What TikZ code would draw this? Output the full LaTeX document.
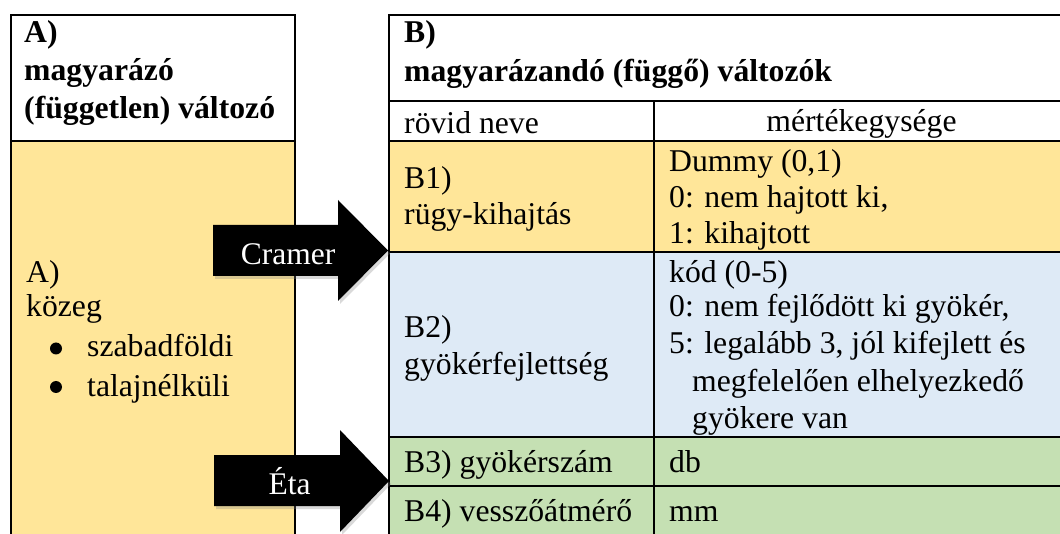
\documentclass[tikz,border=0pt]{standalone}
\usepackage{fontspec}
\setmainfont{Liberation Serif}
\usetikzlibrary{shadows}
\definecolor{cyel}{HTML}{FFE699}
\definecolor{cblu}{HTML}{DEEAF6}
\definecolor{cgrn}{HTML}{C5E0B3}
\begin{document}
\begin{tikzpicture}[x=1pt,y=-1pt,
  txt/.style={anchor=base west, inner sep=0pt, font=\fontsize{31.7}{36}\selectfont},
  hdr/.style={anchor=base west, inner sep=0pt, font=\fontsize{31.7}{36}\selectfont\bfseries},
  ctr/.style={anchor=base, inner sep=0pt, font=\fontsize{31.7}{36}\selectfont},
  gridline/.style={line width=2.8pt, black},
  bul/.style={circle, fill=black, inner sep=0pt, minimum size=12pt},
  bigarrow/.style={fill=black, drop shadow={shadow xshift=2pt, shadow yshift=-3pt, opacity=0.3}},
  arrtxt/.style={anchor=base, inner sep=0pt, text=white, font=\fontsize{31.5}{36}\selectfont}]
\useasboundingbox (0,0) rectangle (1060,534);
% fills
\fill[cyel] (11,141) rectangle (295,545);
\fill[cyel] (389,141) rectangle (1075,252);
\fill[cblu] (389,252) rectangle (1075,437);
\fill[cgrn] (389,437) rectangle (1075,545);
% left table lines
\draw[gridline] (11,545) -- (11,15) -- (295,15) -- (295,545);
\draw[gridline] (11,141) -- (295,141);
% right table lines
\draw[gridline] (389,545) -- (389,15) -- (1075,15);
\foreach \yy in {101,141,252,437,486} \draw[gridline] (389,\yy) -- (1075,\yy);
\draw[gridline] (654,101) -- (654,545);
% left header
\node[hdr] (ah1) at (24,43) {A)};
\node[hdr] (ah2) at (24,81) {magyarázó};
\node[hdr] (ah3) at (24,118.5) {(független) változó};
% left body
\node[txt] (ab1) at (26,282.7) {A)};
\node[txt] (ab2) at (26,317) {közeg};
\node[bul] (bu1) at (56,348.5) {};
\node[bul] (bu2) at (56,387) {};
\node[txt] (ab3) at (87,356.5) {szabadföldi};
\node[txt] (ab4) at (87,396) {talajnélküli};
% right header
\node[hdr] (bh1) at (404,42.5) {B)};
\node[hdr] (bh2) at (404,81.7) {magyarázandó (függő) változók};
\node[txt] (sh1) at (404,133.3) {rövid neve};
\node[ctr] (sh2) at (861.5,131.7) {mértékegysége};
% B1
\node[txt] (b1a) at (404,189) {B1)};
\node[txt] (b1b) at (404,225) {rügy-kihajtás};
\node[txt] (c1a) at (669,171.7) {Dummy (0,1)};
\node[txt] (c1b) at (669,207.5) {0: nem hajtott ki,};
\node[txt] (c1c) at (669,244) {1: kihajtott};
% B2
\node[txt] (b2a) at (404,338) {B2)};
\node[txt] (b2b) at (404,375) {gyökérfejlettség};
\node[txt] (c2a) at (669,282.7) {kód (0-5)};
\node[txt] (c2b) at (669,317) {0: nem fejlődött ki gyökér,};
\node[txt] (c2c) at (669,354) {5: legalább 3, jól kifejlett és};
\node[txt] (c2d) at (692,391.5) {megfelelően elhelyezkedő};
\node[txt] (c2e) at (692,428.3) {gyökere van};
% B3, B4
\node[txt] (b3a) at (404,472) {B3) gyökérszám};
\node[txt] (c3a) at (669,472) {db};
\node[txt] (b4a) at (404,521.5) {B4) vesszőátmérő};
\node[txt] (c4a) at (669,521.5) {mm};
% arrows
\fill[bigarrow] (213,225) -- (338,225) -- (338,200) -- (388,250.5) -- (338,301) -- (338,276) -- (213,276) -- cycle;
\node[arrtxt] (cramer) at (288,264.3) {Cramer};
\fill[bigarrow] (214,455) -- (340,455) -- (340,430) -- (389,481) -- (340,532) -- (340,506) -- (214,506) -- cycle;
\node[arrtxt] (eta) at (289.7,494) {Éta};
\end{tikzpicture}
\end{document}
